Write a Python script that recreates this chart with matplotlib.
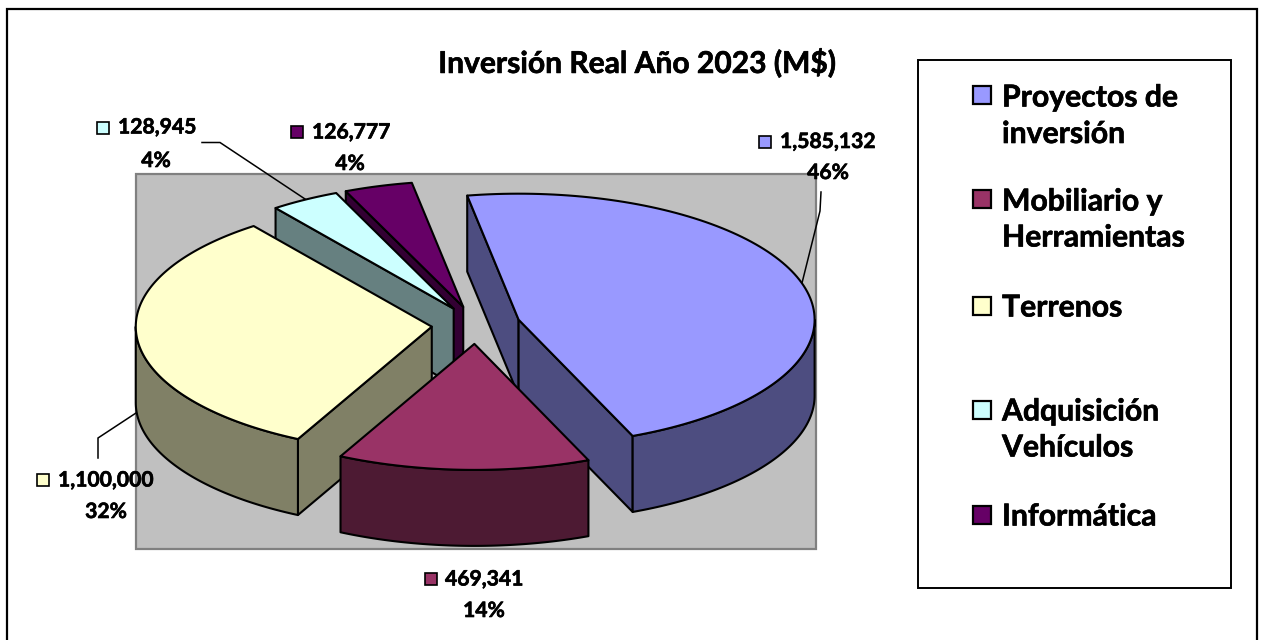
import numpy as np
import matplotlib
matplotlib.use("Agg")
import matplotlib.pyplot as plt
import matplotlib.patheffects as pe
from matplotlib.patches import Polygon, Rectangle

plt.rcParams['font.family'] = ['Lato', 'DejaVu Sans']

title = "Inversión Real Año 2023 (M$)"
categories = ["Proyectos de\ninversión", "Mobiliario y\nHerramientas", "Terrenos",
              "Adquisición\nVehículos", "Informática"]
values = [1585132, 469341, 1100000, 128945, 126777]
top_colors = ["#9999FF", "#993366", "#FFFFCC", "#CCFFFF", "#660066"]
wall_colors = ["#4D4D80", "#4D1A33", "#808066", "#668080", "#330033"]

# pie geometry in figure pixels
CX, CY = 476.0, 325.0
A, B = 296.0, 126.0
DEPTH = 76.0
EXPLODE = 0.15
START = -10.0
LW = 1.5


def ell(t, c=(0.0, 0.0), dz=0.0):
    t = np.radians(np.asarray(t, dtype=float))
    return np.column_stack([c[0] + A * np.sin(t), c[1] - B * np.cos(t) + dz])


total = sum(values)
fracs = [v / total for v in values]
edges = START + 360.0 * np.concatenate([[0.0], np.cumsum(fracs)])

fig = plt.figure(figsize=(12.65, 6.4), dpi=100, facecolor="white")
ax = fig.add_axes([0, 0, 1, 1])
ax.set_xlim(0, 1265)
ax.set_ylim(640, 0)
ax.axis("off")

# chart frame and plot area
ax.add_patch(Rectangle((7, 9), 1250, 700, fc="white", ec="black", lw=1.6, zorder=0))
ax.add_patch(Rectangle((135.5, 174), 680, 375, fc="#C0C0C0", ec="#808080", lw=1.6, zorder=1))

heavy = [pe.withStroke(linewidth=0.45, foreground="black")]


def draw_slice(i, z):
    a0, a1 = edges[i], edges[i + 1]
    mid = np.radians((a0 + a1) / 2)
    c = (CX + EXPLODE * A * np.sin(mid), CY - EXPLODE * B * np.cos(mid))
    kw = dict(ec="black", lw=LW, joinstyle="round", zorder=z)
    apex = np.array([c])
    apex_low = apex + [0, DEPTH]
    # radial walls whose outward side faces the viewer
    for ang, normal in ((a0, a0 - 90.0), (a1, a1 + 90.0)):
        if np.cos(np.radians(normal)) < 0:
            p, q = ell([ang], c), ell([ang], c, DEPTH)
            ax.add_patch(Polygon(np.vstack([apex, p, q, apex_low]), fc=wall_colors[i], **kw))
    # outer rim, only the part facing the viewer
    r0, r1 = max(a0, 90.0), min(a1, 270.0)
    if r1 > r0:
        ts = np.linspace(r0, r1, 80)
        ax.add_patch(Polygon(np.vstack([ell(ts, c), ell(ts[::-1], c, DEPTH)]),
                             fc=wall_colors[i], **kw))
    # top face
    ts = np.linspace(a0, a1, 120)
    ax.add_patch(Polygon(np.vstack([apex, ell(ts, c)]), fc=top_colors[i], **kw))


# painter's order: back slices first
for z, i in enumerate([4, 3, 2, 0, 1]):
    draw_slice(i, 3 + z)

# leader lines
leaders = [([821, 820, 802], [192, 211, 283]),
           ([202, 220, 305], [142.5, 142.5, 199]),
           ([98, 98, 136], [458, 438, 413])]
for xs, ys in leaders:
    ax.plot(xs, ys, color="black", lw=1.1, zorder=10, solid_joinstyle="miter")

# data labels: swatch x, swatch y, text left, value y, percent centre x, percent y
label_pos = [(759, 136, 780, 142, 828, 173),
             (425, 573, 445, 579.5, 484, 611),
             (37, 474, 58, 480.5, 106, 512),
             (97, 122, 118, 127.5, 156, 161),
             (291, 126, 312, 132.5, 350, 164)]
LABEL_FS = 15.2
for i, (sx, sy, tx, vy, px, py) in enumerate(label_pos):
    ax.add_patch(Rectangle((sx, sy), 11.5, 11.5, fc=top_colors[i], ec="black", lw=1.2, zorder=11))
    ax.text(tx, vy, f"{values[i]:,}", fontsize=LABEL_FS, fontweight="bold",
            va="center", ha="left", color="black", zorder=12, path_effects=heavy)
    ax.text(px, py, f"{fracs[i] * 100:.0f}%", fontsize=LABEL_FS, fontweight="bold",
            va="center", ha="center", color="black", zorder=12, path_effects=heavy)

# title
ax.text(637, 63, title, fontsize=21.6, fontweight="bold", ha="center", va="center",
        color="black", path_effects=heavy)

# legend
ax.add_patch(Rectangle((918, 60), 313, 528, fc="white", ec="black", lw=1.4, zorder=2))
legend_swatch_y = [86, 190, 297, 401, 506]
legend_text_y = [[97.5, 134], [201.5, 237.5], [307.5], [411.5, 447.5], [516.5]]
LEG_FS = 21.7
for i, cat in enumerate(categories):
    ax.add_patch(Rectangle((973, legend_swatch_y[i]), 18, 18, fc=top_colors[i], ec="black",
                           lw=1.6, zorder=3))
    for line, y in zip(cat.split("\n"), legend_text_y[i]):
        ax.text(1002, y, line, fontsize=LEG_FS, fontweight="bold", ha="left", va="center",
                color="black", zorder=3, path_effects=heavy)

fig.savefig("out.png", dpi=100, facecolor="white")
